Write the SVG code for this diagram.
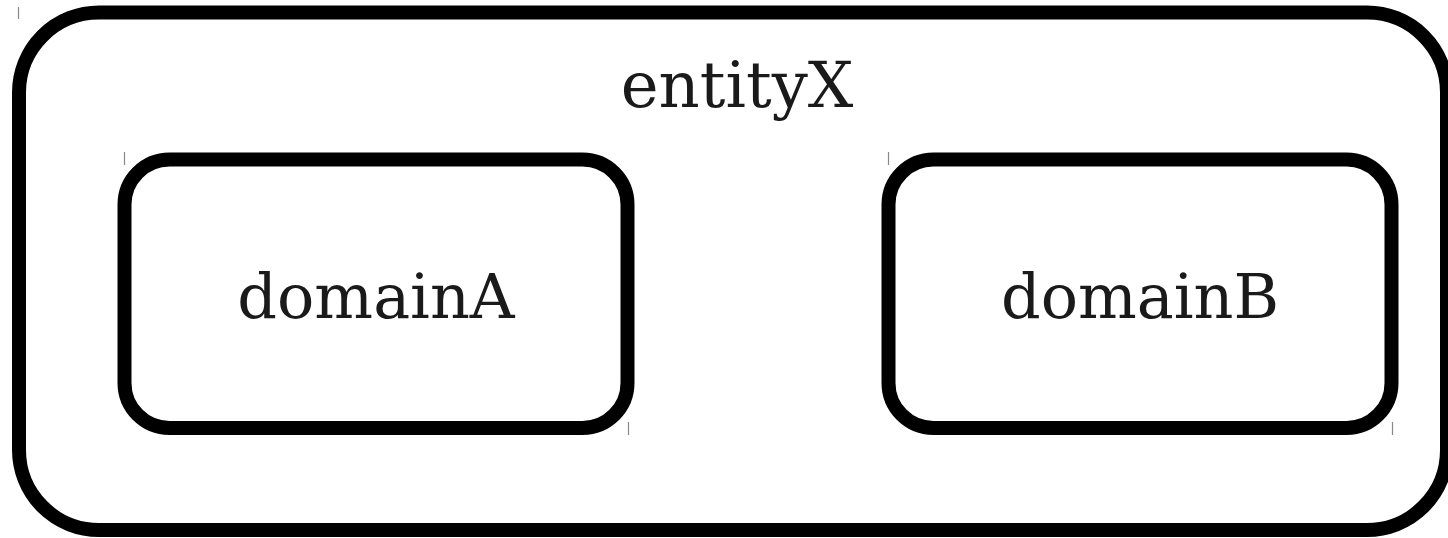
<svg xmlns="http://www.w3.org/2000/svg" width="1448" height="538" viewBox="0 0 1448 538">
<style>
.box{fill:#fff;stroke:#000;stroke-width:14}
.lbl{font-family:"DejaVu Serif",serif;font-size:62px;fill:#1a1a1a;text-anchor:middle}
.tick{stroke:#888;stroke-width:1.2}
</style>
<rect width="1448" height="538" fill="#fff"/>
<g id="entityX">
<rect class="box" x="19" y="12.5" width="1428" height="517.5" rx="80" ry="80"/>
<line class="tick" x1="18.5" y1="7" x2="18.5" y2="19"/>
<text class="lbl" x="737" y="107" style="font-size:64px">entityX</text>
</g>
<g id="domainA">
<rect class="box" x="124.5" y="159.5" width="503" height="268.5" rx="45" ry="45"/>
<line class="tick" x1="124.5" y1="152" x2="124.5" y2="165"/>
<line class="tick" x1="628.5" y1="422" x2="628.5" y2="435"/>
<text class="lbl" x="376" y="318">domainA</text>
</g>
<g id="domainB">
<rect class="box" x="888.5" y="159.5" width="503" height="268.5" rx="45" ry="45"/>
<line class="tick" x1="888.5" y1="152" x2="888.5" y2="165"/>
<line class="tick" x1="1392.5" y1="422" x2="1392.5" y2="435"/>
<text class="lbl" x="1140" y="318">domainB</text>
</g>
<g id="connectors"></g>
</svg>
